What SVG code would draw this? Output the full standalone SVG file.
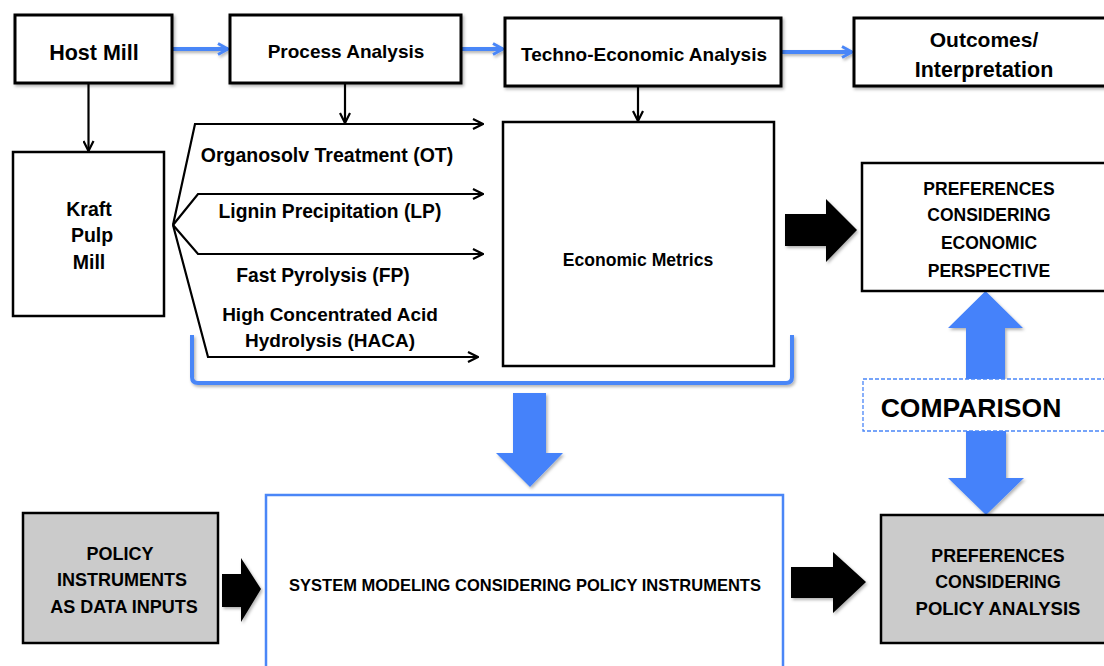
<svg xmlns="http://www.w3.org/2000/svg" width="1104" height="666" viewBox="0 0 1104 666">
  <style>
    text { font-family: "Liberation Sans", Arial, sans-serif; font-weight: bold; fill: #000; text-anchor: middle; }
    .box { fill: #fff; stroke: #000; stroke-width: 3; }
    .box2 { fill: #fff; stroke: #000; stroke-width: 2.5; }
    .grey { fill: #cbcbcb; stroke: #000; stroke-width: 2.5; }
    .line { fill: none; stroke: #000; stroke-width: 2.2; }
    .blue { fill: none; stroke: #4a86f7; stroke-width: 4; }
    .fatblue { fill: #4582fa; }
    .fatblack { fill: #000; }
  </style>
  <defs>
    <!-- page-wide shadow region so thin horizontal strokes keep their shadow too -->
    <filter id="shadow" filterUnits="userSpaceOnUse" x="0" y="0" width="1104" height="666">
      <feDropShadow dx="1.5" dy="2" stdDeviation="1.5" flood-color="#000" flood-opacity="0.3"/>
    </filter>
    <marker id="chev" viewBox="0 0 12 12" refX="11" refY="6" markerWidth="12" markerHeight="12" markerUnits="userSpaceOnUse" orient="auto">
      <path d="M1,1 L11,6 L1,11" fill="none" stroke="#000" stroke-width="2.2"/>
    </marker>
    <marker id="chevBlue" viewBox="0 0 14 14" refX="12" refY="7" markerWidth="14" markerHeight="14" markerUnits="userSpaceOnUse" orient="auto">
      <path d="M2,1.5 L12,7 L2,12.5" fill="none" stroke="#4a86f7" stroke-width="3"/>
    </marker>
  </defs>

  <!-- connectors -->
  <g id="connectors">
    <!-- blue flow along the top row -->
    <line class="blue" x1="173" y1="49" x2="228" y2="49" marker-end="url(#chevBlue)" filter="url(#shadow)"/>
    <line class="blue" x1="462" y1="49" x2="503" y2="49" marker-end="url(#chevBlue)" filter="url(#shadow)"/>
    <line class="blue" x1="782" y1="52" x2="852" y2="52" marker-end="url(#chevBlue)" filter="url(#shadow)"/>

    <!-- thin downward connectors -->
    <line class="line" x1="88.5" y1="84" x2="88.5" y2="151" marker-end="url(#chev)"/>
    <line class="line" x1="345" y1="84" x2="345" y2="123" marker-end="url(#chev)"/>
    <line class="line" x1="638" y1="87" x2="638" y2="121" marker-end="url(#chev)"/>

    <!-- fan of process routes -->
    <polyline class="line" points="173,225 195,124 483,124" marker-end="url(#chev)"/>
    <polyline class="line" points="173,225 198,194 483,194" marker-end="url(#chev)"/>
    <polyline class="line" points="173,225 198,254 483,254" marker-end="url(#chev)"/>
    <polyline class="line" points="173,225 208,357 478,357" marker-end="url(#chev)"/>

    <!-- blue bracket grouping the routes -->
    <path class="blue" d="M192,335 V377 Q192,383 198,383 H786 Q792,383 792,377 V335" filter="url(#shadow)"/>

    <!-- block arrows -->
    <polygon class="fatblue" points="513,393 546,393 546,453 563,453 530,487 496,453 513,453" filter="url(#shadow)"/>
    <polygon class="fatblack" points="785,214 826,214 826,199 857,230 826,262 826,246 785,246" filter="url(#shadow)"/>
    <polygon class="fatblack" points="222,574 241,574 241,558 261,589 241,622 241,607 222,607" filter="url(#shadow)"/>
    <polygon class="fatblack" points="791,567 833,567 833,552 866,582 833,613 833,598 791,598" filter="url(#shadow)"/>

    <!-- comparison double arrow -->
    <polygon class="fatblue" points="985.5,291 1023,328 1005,328 1005,379 966,379 966,328 948,328" filter="url(#shadow)"/>
    <polygon class="fatblue" points="966,431 1006,431 1006,478 1024,478 986,515 948,478 966,478" filter="url(#shadow)"/>
  </g>

  <!-- top row -->
  <g id="host-mill">
    <rect class="box" x="15" y="15" width="157" height="68" filter="url(#shadow)"/>
    <text x="94" y="60" font-size="21.5">Host Mill</text>
  </g>
  <g id="process-analysis">
    <rect class="box" x="230" y="15" width="231" height="68" filter="url(#shadow)"/>
    <text x="346" y="58" font-size="19">Process Analysis</text>
  </g>
  <g id="techno-economic">
    <rect class="box" x="505" y="18" width="276" height="68" filter="url(#shadow)"/>
    <text x="644" y="61" font-size="19">Techno-Economic Analysis</text>
  </g>
  <g id="outcomes">
    <rect class="box" x="854" y="18" width="262" height="68" filter="url(#shadow)"/>
    <text x="984" y="47" font-size="21">Outcomes/</text>
    <text x="984" y="77" font-size="21.5">Interpretation</text>
  </g>

  <!-- middle row -->
  <g id="kraft-pulp-mill">
    <rect class="box2" x="13" y="152" width="151" height="164"/>
    <text x="89" y="216" font-size="19.5">Kraft</text>
    <text x="92" y="242" font-size="19.5">Pulp</text>
    <text x="89" y="269" font-size="19.5">Mill</text>
  </g>
  <g id="route-labels">
    <text x="327" y="162" font-size="19.5">Organosolv Treatment (OT)</text>
    <text x="330" y="218" font-size="19.3">Lignin Precipitation (LP)</text>
    <text x="323" y="282" font-size="19.3">Fast Pyrolysis (FP)</text>
    <text x="330" y="321" font-size="19">High Concentrated Acid</text>
    <text x="330" y="347" font-size="19">Hydrolysis (HACA)</text>
  </g>
  <g id="economic-metrics">
    <rect class="box2" x="503" y="122" width="271" height="244"/>
    <text x="638" y="266" font-size="17.6">Economic Metrics</text>
  </g>
  <g id="preferences-economic">
    <rect class="box2" x="862" y="163" width="254" height="128"/>
    <text x="989" y="195" font-size="17.5">PREFERENCES</text>
    <text x="989" y="221" font-size="17.5">CONSIDERING</text>
    <text x="989" y="249" font-size="17.5">ECONOMIC</text>
    <text x="989" y="277" font-size="17.5">PERSPECTIVE</text>
  </g>
  <g id="comparison">
    <rect x="863" y="379" width="260" height="52" fill="#fff" stroke="#4a86f7" stroke-width="1.3" stroke-dasharray="4,2"/>
    <text x="971" y="417" font-size="26.5">COMPARISON</text>
  </g>

  <!-- bottom row -->
  <g id="policy-instruments">
    <rect class="grey" x="23" y="513" width="195" height="130"/>
    <text x="120" y="560" font-size="18">POLICY</text>
    <text x="122" y="586" font-size="18">INSTRUMENTS</text>
    <text x="124" y="613" font-size="18">AS DATA INPUTS</text>
  </g>
  <g id="system-modeling">
    <rect x="266" y="495" width="517" height="190" fill="#fff" stroke="#4a86f7" stroke-width="2.5"/>
    <text x="525" y="591" font-size="16.5">SYSTEM MODELING CONSIDERING POLICY INSTRUMENTS</text>
  </g>
  <g id="preferences-policy">
    <rect class="grey" x="881" y="515" width="235" height="128"/>
    <text x="998" y="562" font-size="17.8">PREFERENCES</text>
    <text x="998" y="588" font-size="17.8">CONSIDERING</text>
    <text x="998" y="615" font-size="18.5">POLICY ANALYSIS</text>
  </g>
</svg>
